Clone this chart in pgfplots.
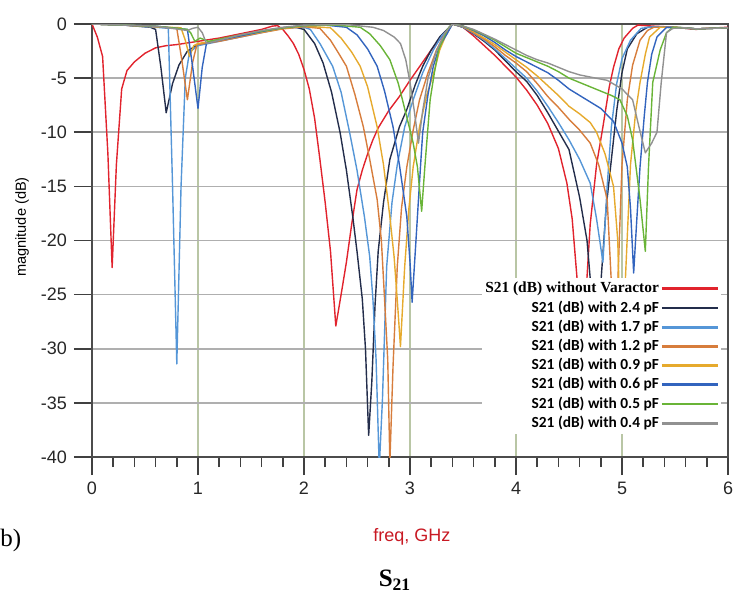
\documentclass[border=0pt]{standalone}
\usepackage{pgfplots}
\pgfplotsset{compat=1.18}
\usepackage{fontspec}
\setmainfont{Liberation Sans}
\newfontfamily\seriffont{Liberation Serif}
\newfontfamily\legfont{Carlito}
\definecolor{cRed}{RGB}{225,35,45}
\definecolor{cNavy}{RGB}{35,45,75}
\definecolor{cLBlue}{RGB}{85,150,215}
\definecolor{cOrange}{RGB}{215,125,60}
\definecolor{cYellow}{RGB}{230,170,45}
\definecolor{cBlue}{RGB}{50,100,190}
\definecolor{cGreen}{RGB}{105,180,55}
\definecolor{cGray}{RGB}{145,145,145}
\definecolor{cLabel}{RGB}{200,25,35}
\begin{document}
\begin{tikzpicture}
\path[use as bounding box] (-46pt,-69.5pt) rectangle (328.5pt,228.5pt);
\begin{axis}[
  at={(0,0)}, anchor=south west,
  scale only axis, width=318pt, height=216.5pt,
  xmin=0, xmax=6, ymin=-40, ymax=0,
  xtick={0,1,2,3,4,5,6},
  xticklabels={0,1,2,3,4,5,6},
  ytick={-40,-35,-30,-25,-20,-15,-10,-5,0},
  yticklabels={-40,-35,-30,-25,-20,-15,-10,-5,0},
  minor x tick num=4,
  tick align=outside, tick pos=left,
  major tick length=9pt, minor tick length=5pt,
  every tick/.style={black!75, line width=0.8pt},
  axis line style={black!70, line width=0.8pt},
  grid=major,
  x grid style={draw={rgb,255:red,185;green,198;blue,165}, line width=0.8pt},
  y grid style={draw={rgb,255:red,175;green,175;blue,175}, line width=0.8pt},
  tick label style={font=\fontsize{9}{10}\selectfont, text=black!85},
  xlabel={freq, GHz},
  xlabel style={at={(axis description cs:0.503,-0.185)}, anchor=center, text=cLabel, font=\fontsize{9}{10}\selectfont},
  ylabel={magnitude (dB)},
  ylabel style={at={(axis description cs:-0.110,0.531)}, anchor=center, font=\fontsize{7.3}{8}\selectfont},
  legend style={at={(0.99,0.415)}, anchor=north east, fill=white, draw=none,
    inner sep=1pt, row sep=0.6pt,
    nodes={inner sep=0.8pt, text height=5.8pt, text depth=1.6pt},
    font=\legfont\bfseries\fontsize{7.7}{8}\selectfont},
  legend cell align=right,
  legend plot pos=right,
  legend image code/.code={\draw[#1, line width=1.4pt] (0pt,0pt) -- (28pt,0pt);},
  every axis plot/.append style={no markers, line width=0.7pt, line join=round},
]
% without varactor
\addplot[cRed] coordinates {
(0,0) (0.05,-1.2) (0.1,-3) (0.15,-12) (0.19,-22.5) (0.23,-13) (0.28,-6) (0.33,-4.3) (0.4,-3.5) (0.5,-2.7) (0.6,-2.2) (0.7,-2.0) (0.8,-1.9) (1.0,-1.6) (1.2,-1.3) (1.4,-0.9) (1.6,-0.5) (1.7,-0.2) (1.75,-0.15) (1.8,-0.5) (1.85,-1.1) (1.9,-1.8) (1.95,-2.8) (2.0,-4.2) (2.05,-6) (2.1,-8.7) (2.15,-12.5) (2.2,-16.5) (2.25,-21) (2.3,-27.9) (2.35,-25) (2.4,-22) (2.45,-18.5) (2.5,-15.3) (2.55,-13.5) (2.6,-12) (2.65,-10.7) (2.7,-9.6) (2.8,-8) (2.9,-6.7) (3.0,-5.2) (3.1,-3.8) (3.2,-2.4) (3.3,-1.2) (3.35,-0.6) (3.4,0) (3.5,-0.3) (3.6,-1.1) (3.7,-2) (3.8,-2.9) (3.9,-3.9) (4.0,-4.9) (4.1,-6.1) (4.2,-7.5) (4.3,-9.2) (4.4,-11.5) (4.48,-14.7) (4.53,-18) (4.58,-24) (4.62,-34) (4.66,-25) (4.7,-18.5) (4.76,-13) (4.82,-9.5) (4.88,-5.8) (4.92,-4) (4.97,-2.3) (5.02,-1.3) (5.1,-0.4) (5.15,-0.1) (5.3,-0.2) (5.5,-0.3) (5.7,-0.5) (5.8,-0.4) (6.0,-0.3)
};
\addlegendentry{{\seriffont\bfseries S21 (dB) without Varactor}}
% 2.4 pF
\addplot[cNavy] coordinates {
(0,0) (0.3,-0.1) (0.55,-0.3) (0.6,-0.5) (0.65,-4) (0.7,-8.2) (0.76,-5.5) (0.82,-3.8) (0.9,-2.5) (1.0,-1.9) (1.2,-1.5) (1.4,-1.1) (1.6,-0.7) (1.8,-0.35) (1.9,-0.25) (2.0,-0.5) (2.1,-1.8) (2.18,-3.6) (2.26,-6.3) (2.34,-10) (2.4,-13.5) (2.46,-17.8) (2.5,-21) (2.55,-25.4) (2.58,-30) (2.61,-38) (2.64,-33) (2.67,-26) (2.7,-21) (2.75,-16.5) (2.81,-12.5) (2.9,-9.5) (2.97,-7.9) (3.05,-5.6) (3.12,-3.9) (3.2,-2.4) (3.28,-1.2) (3.35,-0.5) (3.4,0) (3.5,-0.3) (3.6,-0.9) (3.7,-1.6) (3.8,-2.4) (3.9,-3.4) (4.0,-4.4) (4.1,-5.3) (4.2,-6.6) (4.3,-8.2) (4.4,-9.9) (4.5,-11.6) (4.6,-16) (4.67,-20) (4.73,-27) (4.77,-32) (4.8,-24) (4.85,-17) (4.9,-12.5) (4.95,-8) (5.0,-4.5) (5.05,-2.3) (5.14,-0.9) (5.24,-0.3) (5.4,-0.3) (5.7,-0.45) (6,-0.35)
};
\addlegendentry{S21 (dB) with 2.4 pF}
% 1.7 pF
\addplot[cLBlue] coordinates {
(0,0) (0.3,-0.1) (0.6,-0.3) (0.72,-0.4) (0.76,-15) (0.8,-31.4) (0.84,-15) (0.88,-5) (0.92,-2.6) (1.0,-2.0) (1.2,-1.6) (1.4,-1.2) (1.6,-0.8) (1.8,-0.4) (2.0,-0.3) (2.06,-0.5) (2.15,-1.8) (2.27,-3.9) (2.35,-6.3) (2.43,-10) (2.5,-13.5) (2.57,-17.8) (2.62,-21.5) (2.65,-25.4) (2.68,-31) (2.71,-41) (2.74,-34.7) (2.78,-22.4) (2.83,-16.5) (2.88,-13) (2.95,-9.5) (3.03,-7) (3.12,-4.5) (3.22,-2.4) (3.3,-1.1) (3.38,-0.3) (3.4,0) (3.5,-0.3) (3.6,-0.85) (3.7,-1.5) (3.8,-2.3) (3.9,-3.2) (4.0,-4.1) (4.1,-5) (4.2,-6.2) (4.3,-7.6) (4.4,-9.1) (4.5,-10.7) (4.6,-12.5) (4.7,-14.7) (4.76,-18) (4.82,-22) (4.86,-15) (4.9,-9.5) (4.95,-5.5) (5.0,-3.2) (5.08,-1.5) (5.18,-0.4) (5.3,-0.25) (5.5,-0.3) (5.7,-0.45) (6,-0.35)
};
\addlegendentry{S21 (dB) with 1.7 pF}
% 1.2 pF
\addplot[cOrange] coordinates {
(0,0) (0.3,-0.1) (0.6,-0.25) (0.8,-0.4) (0.85,-3.5) (0.9,-7) (0.95,-3.5) (0.99,-1.9) (1.2,-1.6) (1.4,-1.2) (1.6,-0.8) (1.8,-0.45) (2.0,-0.25) (2.15,-0.4) (2.25,-1.5) (2.32,-2.6) (2.4,-3.9) (2.48,-6.5) (2.56,-9.5) (2.62,-12.5) (2.69,-16.2) (2.73,-20) (2.76,-25.4) (2.79,-31) (2.81,-40.5) (2.84,-31.6) (2.88,-22.4) (2.92,-17) (2.97,-13.2) (3.03,-9.8) (3.09,-7) (3.17,-4.5) (3.25,-2.4) (3.33,-0.9) (3.4,0) (3.5,-0.25) (3.6,-0.8) (3.7,-1.4) (3.8,-2.1) (3.9,-2.9) (4.0,-3.6) (4.1,-4.4) (4.2,-5.5) (4.3,-6.7) (4.4,-7.7) (4.5,-8.8) (4.6,-9.8) (4.7,-11) (4.78,-13) (4.86,-16.2) (4.9,-24) (4.93,-36) (4.96,-24) (5.0,-13) (5.05,-7) (5.1,-3.8) (5.17,-1.5) (5.24,-0.6) (5.3,-0.3) (5.5,-0.3) (5.7,-0.45) (6,-0.35)
};
\addlegendentry{S21 (dB) with 1.2 pF}
% 0.9 pF
\addplot[cYellow] coordinates {
(0,0) (0.3,-0.1) (0.6,-0.25) (0.84,-0.35) (0.88,-1.5) (0.92,-3) (0.96,-2) (1.0,-1.8) (1.2,-1.5) (1.4,-1.1) (1.6,-0.75) (1.8,-0.4) (2.0,-0.2) (2.25,-0.35) (2.35,-1.3) (2.45,-2.6) (2.53,-3.9) (2.6,-5.8) (2.69,-9.5) (2.75,-13) (2.81,-17.8) (2.85,-21.5) (2.88,-25.5) (2.91,-29.8) (2.95,-22.4) (2.99,-17) (3.03,-13.2) (3.09,-9.5) (3.16,-6.5) (3.23,-4.3) (3.28,-2.4) (3.34,-1) (3.4,0) (3.5,-0.2) (3.6,-0.7) (3.7,-1.3) (3.8,-1.9) (3.9,-2.6) (4.0,-3.3) (4.1,-4) (4.2,-4.8) (4.3,-5.7) (4.4,-6.6) (4.5,-7.6) (4.6,-8.3) (4.7,-9.1) (4.76,-10) (4.84,-12) (4.92,-15) (4.96,-20) (5.0,-35) (5.03,-24) (5.08,-13) (5.13,-8) (5.17,-5.4) (5.22,-2.8) (5.26,-1.2) (5.36,-0.3) (5.5,-0.3) (5.7,-0.45) (6,-0.35)
};
\addlegendentry{S21 (dB) with 0.9 pF}
% 0.6 pF
\addplot[cBlue] coordinates {
(0,0) (0.3,-0.1) (0.6,-0.2) (0.9,-0.5) (0.95,-4) (1.0,-7.8) (1.04,-4) (1.08,-1.8) (1.2,-1.5) (1.4,-1.1) (1.6,-0.7) (1.8,-0.35) (2.0,-0.15) (2.2,-0.1) (2.4,-0.3) (2.5,-1) (2.6,-2.3) (2.69,-3.9) (2.76,-6.2) (2.84,-9.5) (2.9,-13) (2.97,-17.8) (3.0,-22) (3.02,-25.7) (3.05,-21) (3.07,-17.8) (3.1,-13) (3.12,-10) (3.17,-6.5) (3.22,-3.9) (3.28,-2) (3.35,-0.9) (3.4,0) (3.5,-0.2) (3.6,-0.6) (3.7,-1.1) (3.8,-1.7) (3.9,-2.4) (4.0,-3.0) (4.1,-3.5) (4.2,-4.0) (4.3,-4.5) (4.4,-5.2) (4.5,-6.0) (4.6,-6.6) (4.7,-7.2) (4.8,-7.8) (4.92,-9) (5.0,-11) (5.05,-13.2) (5.08,-17) (5.11,-23) (5.14,-18) (5.17,-13.2) (5.21,-8.5) (5.24,-5.4) (5.28,-2.8) (5.33,-1.2) (5.42,-0.3) (5.6,-0.35) (5.7,-0.45) (6,-0.35)
};
\addlegendentry{S21 (dB) with 0.6 pF}
% 0.5 pF
\addplot[cGreen] coordinates {
(0,0) (0.3,-0.1) (0.6,-0.2) (0.9,-0.5) (0.93,-0.8) (0.97,-1.6) (1.02,-1.3) (1.1,-1.6) (1.2,-1.4) (1.4,-1.0) (1.6,-0.65) (1.8,-0.35) (2.0,-0.15) (2.3,-0.1) (2.53,-0.3) (2.62,-0.9) (2.72,-2.0) (2.81,-3.3) (2.89,-5.5) (2.97,-8.6) (3.03,-11) (3.07,-13.2) (3.11,-17.3) (3.14,-13.2) (3.19,-7) (3.23,-4.5) (3.27,-2.4) (3.35,-0.5) (3.4,0) (3.5,-0.2) (3.6,-0.55) (3.7,-1.0) (3.8,-1.5) (3.9,-2.1) (4.0,-2.7) (4.1,-3.1) (4.2,-3.5) (4.3,-3.9) (4.4,-4.4) (4.5,-5.0) (4.6,-5.4) (4.7,-5.8) (4.8,-6.2) (4.9,-6.6) (4.98,-7) (5.05,-8.5) (5.1,-10.7) (5.17,-16.2) (5.22,-21) (5.25,-13.2) (5.29,-5.4) (5.36,-2.4) (5.42,-0.8) (5.48,-0.3) (5.6,-0.35) (5.7,-0.45) (6,-0.35)
};
\addlegendentry{S21 (dB) with 0.5 pF}
% 0.4 pF
\addplot[cGray] coordinates {
(0,0) (0.3,-0.1) (0.6,-0.2) (0.9,-0.6) (0.95,-0.4) (1.0,-0.3) (1.04,-0.8) (1.08,-1.8) (1.2,-1.5) (1.4,-1.0) (1.6,-0.6) (1.8,-0.3) (2.0,-0.1) (2.4,-0.05) (2.65,-0.3) (2.75,-0.6) (2.85,-1.2) (2.91,-1.8) (2.96,-3.3) (3.0,-5.4) (3.04,-8) (3.08,-11) (3.12,-8) (3.17,-5) (3.25,-2.5) (3.33,-0.8) (3.4,0) (3.5,-0.2) (3.6,-0.5) (3.7,-0.95) (3.8,-1.4) (3.9,-1.9) (4.0,-2.4) (4.1,-2.9) (4.2,-3.3) (4.3,-3.6) (4.4,-4.0) (4.5,-4.4) (4.6,-4.7) (4.7,-4.9) (4.86,-5.2) (5.0,-6) (5.1,-7) (5.16,-9.5) (5.22,-11.9) (5.28,-11) (5.33,-10) (5.37,-5.4) (5.42,-0.8) (5.48,-0.4) (5.6,-0.35) (5.7,-0.45) (6,-0.35)
};
\addlegendentry{S21 (dB) with 0.4 pF}
\end{axis}
\node[anchor=west, font=\seriffont\fontsize{12.5}{13}\selectfont, inner sep=0pt] at (-46pt,-41.5pt) {b)};
\node[anchor=center, font=\seriffont\bfseries\fontsize{12.5}{13}\selectfont, inner sep=0pt] at (151.5pt,-61.5pt) {S\textsubscript{21}};
\end{tikzpicture}
\end{document}
